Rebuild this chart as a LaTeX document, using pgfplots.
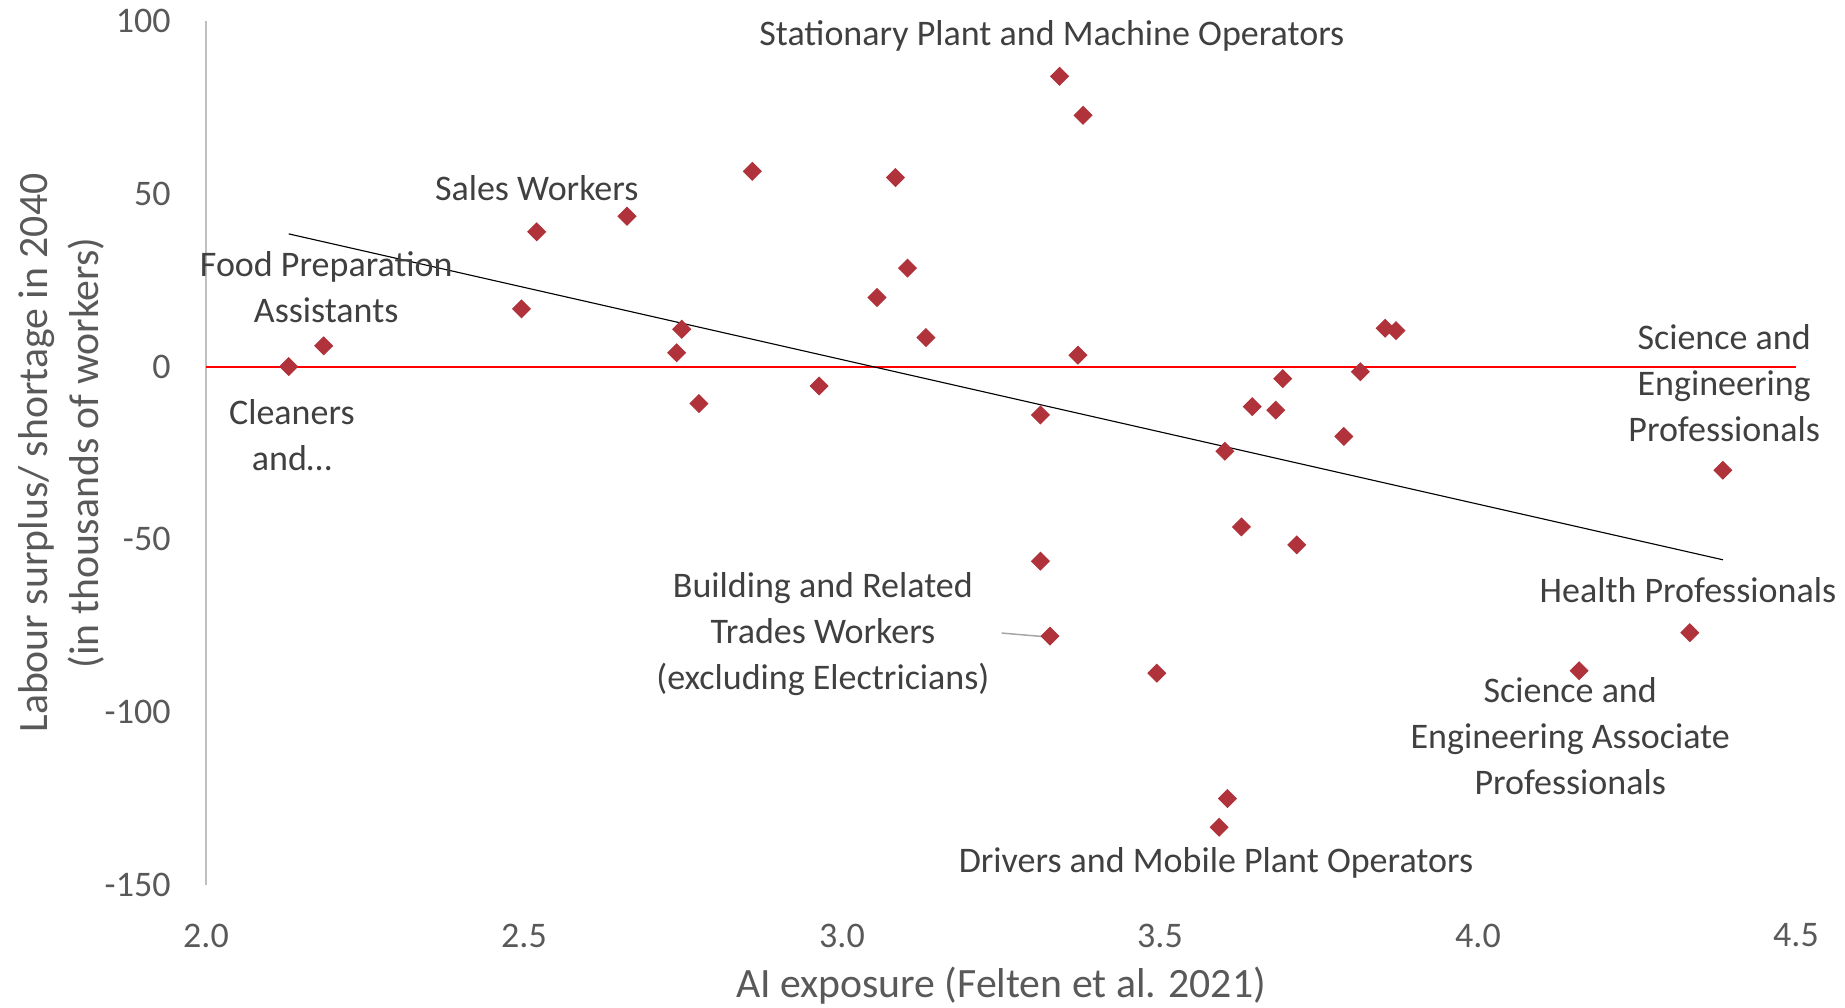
\documentclass[border=0pt]{standalone}
\usepackage{fontspec}
\setmainfont{Carlito}
\usepackage{pgfplots}
\pgfplotsset{compat=1.18}
\definecolor{mk}{HTML}{B0323A}
\definecolor{lbl}{HTML}{404040}
\definecolor{tck}{HTML}{595959}
\definecolor{axl}{HTML}{BFBFBF}
\begin{document}
\begin{tikzpicture}
\useasboundingbox (0,0) rectangle (738pt,403.2pt);
\begin{axis}[
  at={(82.4pt,49.2pt)}, anchor=south west,
  scale only axis, width=636pt, height=345.6pt,
  xmin=2, xmax=4.5, ymin=-150, ymax=100,
  axis lines=left, axis line style={-},
  x axis line style={draw=none},
  y axis line style={draw=axl, line width=0.8pt},
  xtick={2,2.5,3,3.5,4,4.5},
  ytick={-150,-100,-50,0,50,100},
  xticklabel={\pgfmathprintnumber[fixed,fixed zerofill,precision=1]{\tick}},
  major tick length=0pt,
  /pgf/number format/assume math mode=true,
  tick label style={font=\fontsize{14.4}{17}\selectfont, text=tck, inner sep=0pt},
  yticklabel style={anchor=east, xshift=-14pt},
  xticklabel style={anchor=center, yshift=-20.2pt},
  xlabel={AI exposure (Felten et al. 2021)},
  xlabel style={at={(rel axis cs:0.5,0)}, anchor=center, yshift=-40.4pt, font=\fontsize{16.7}{20}\selectfont, text=tck, inner sep=0pt},
  ylabel={Labour surplus/ shortage in 2040\\(in thousands of workers)},
  ylabel style={at={(rel axis cs:0,0.5)}, anchor=center, yshift=57.9pt, align=center, font=\fontsize{16.7}{20.2}\selectfont, text=tck, inner sep=0pt},
  clip=false,
]
\addplot[red, line width=0.8pt] coordinates {(2,0) (4.5,0)};
\addplot[black, line width=0.45pt] coordinates {(2.13,38.4) (4.385,-55.9)};
\addplot[only marks, mark=square*, mark size=2.5pt, mark options={rotate=45, fill=mk, draw=mk}] coordinates {
(2.130,0) (2.185,6) (2.496,16.7) (2.520,39) (2.662,43.5) (2.740,4) (2.748,10.8) (2.775,-10.7)
(2.859,56.5) (2.964,-5.6) (3.055,20) (3.084,54.7) (3.103,28.5) (3.132,8.4) (3.312,-14) (3.312,-56.3)
(3.327,-78) (3.342,84) (3.371,3.3) (3.379,72.7) (3.495,-88.7) (3.593,-133.3) (3.602,-24.5) (3.606,-125)
(3.628,-46.4) (3.645,-11.6) (3.682,-12.6) (3.693,-3.5) (3.715,-51.6) (3.789,-20.2) (3.815,-1.5)
(3.854,11.1) (3.871,10.4) (4.159,-88) (4.333,-77) (4.385,-30)
};
\draw[gray!70, line width=0.6pt] (axis cs:3.251,-77.1) -- (axis cs:3.315,-78.1);
\tikzset{lab/.style={font=\fontsize{14.4}{18.4}\selectfont, text=lbl, align=center, anchor=center, inner sep=0pt}}
\node[lab] at (axis cs:3.330,95.6) {Stationary Plant and Machine Operators};
\node[lab] at (axis cs:2.520,51.7) {Sales Workers};
\node[lab] at (axis cs:2.189,23) {Food Preparation\\Assistants};
\node[lab] at (axis cs:2.135,-19.9) {Cleaners\\and\ldots};
\node[lab] at (axis cs:4.387,-4.9) {Science and\\Engineering\\Professionals};
\node[lab] at (axis cs:4.330,-64.6) {Health Professionals};
\node[lab] at (axis cs:4.145,-106.8) {Science and\\Engineering Associate\\Professionals};
\node[lab] at (axis cs:3.588,-143.5) {Drivers and Mobile Plant Operators};
\node[lab] at (axis cs:2.970,-77.4) {Building and Related\\Trades Workers\\(excluding Electricians)};
\end{axis}
\end{tikzpicture}
\end{document}
